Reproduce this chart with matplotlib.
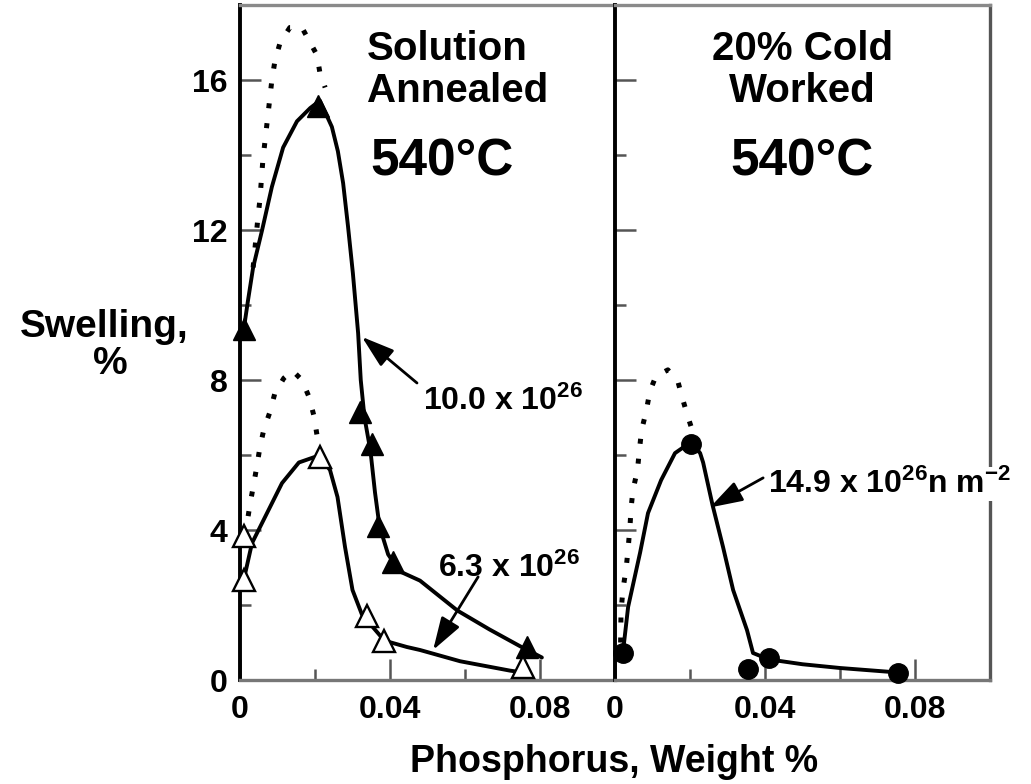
import matplotlib
matplotlib.use('Agg')
import matplotlib.pyplot as plt
from matplotlib.ticker import FixedLocator, FuncFormatter, NullFormatter

plt.rcParams['font.family'] = 'Liberation Sans'
plt.rcParams['font.weight'] = 'bold'
plt.rcParams['mathtext.fontset'] = 'custom'
plt.rcParams['mathtext.rm'] = 'Liberation Sans:bold'
plt.rcParams['mathtext.it'] = 'Liberation Sans:bold'
plt.rcParams['mathtext.bf'] = 'Liberation Sans:bold'

####################################################################
# solution annealed, 10.0e26 n/m2 (filled triangles)
sa_hi_p = [0.001, 0.0208, 0.032, 0.0352, 0.0368, 0.0408, 0.0765]
sa_hi_sw = [9.35, 15.3, 7.15, 6.3, 4.1, 3.15, 0.88]
# hand drawn trend line
sa_hi_line_p = [0.001, 0.0021, 0.0035, 0.0059, 0.0085, 0.0115, 0.0152, 0.0187, 0.0213,
                0.0245, 0.0261, 0.0275, 0.0288, 0.0301, 0.0315, 0.0322, 0.0332, 0.0348,
                0.036, 0.0372, 0.0395, 0.0425, 0.048, 0.058, 0.0665, 0.0747, 0.0805]
sa_hi_line_sw = [9.35, 10.1, 11.0, 12.0, 13.15, 14.2, 14.9, 15.25, 15.45,
                 14.75, 14.1, 13.25, 12.1, 10.85, 9.25, 8.0, 7.0, 6.1,
                 5.0, 4.1, 3.35, 2.9, 2.65, 1.85, 1.35, 0.9, 0.6]
# dotted envelope above the peak
sa_hi_dot_p = [0.0035, 0.0048, 0.0053, 0.0061, 0.0067, 0.0085, 0.0093, 0.0107, 0.0133,
               0.0165, 0.0187, 0.0205, 0.0213, 0.0227]
sa_hi_dot_sw = [11.0, 12.35, 12.8, 13.87, 14.4, 16.0, 16.5, 17.0, 17.4,
                17.4, 17.0, 16.67, 16.2, 15.8]

# solution annealed, 6.3e26 n/m2 (open triangles)
sa_lo_p = [0.001, 0.001, 0.0213, 0.0338, 0.0385, 0.0755]
sa_lo_sw = [3.85, 2.67, 5.95, 1.7, 1.05, 0.35]
sa_lo_line_p = [0.001, 0.0032, 0.0067, 0.0112, 0.0157, 0.02, 0.0213, 0.024, 0.026,
                0.028, 0.030, 0.0325, 0.0338, 0.0385, 0.0445, 0.048, 0.0587, 0.072, 0.0755]
sa_lo_line_sw = [2.67, 3.65, 4.35, 5.25, 5.8, 5.95, 5.95, 5.6, 4.88,
                 3.55, 2.4, 1.75, 1.6, 1.05, 0.88, 0.8, 0.5, 0.25, 0.2]
sa_lo_dot_p = [0.001, 0.0019, 0.0027, 0.0037, 0.0045, 0.0053, 0.0064, 0.008, 0.0093,
               0.0117, 0.014, 0.0165, 0.0184, 0.0197, 0.0205, 0.0213]
sa_lo_dot_sw = [3.85, 4.2, 4.7, 5.25, 5.7, 6.2, 6.7, 7.15, 7.65,
                8.05, 8.25, 8.0, 7.55, 7.05, 6.55, 6.1]

# 20% cold worked, 14.9e26 n/m2 (filled circles)
cw_p = [0.0021, 0.0203, 0.0355, 0.041, 0.0755]
cw_sw = [0.72, 6.3, 0.3, 0.6, 0.2]
cw_line_p = [0.0021, 0.0035, 0.0067, 0.0088, 0.0123, 0.016, 0.0203, 0.0227, 0.0235,
             0.026, 0.0288, 0.0315, 0.0352, 0.0368, 0.041, 0.05, 0.06, 0.0755]
cw_line_sw = [0.72, 1.95, 3.4, 4.45, 5.33, 6.05, 6.35, 6.05, 5.8,
              4.67, 3.55, 2.4, 1.33, 0.72, 0.55, 0.42, 0.32, 0.2]
cw_dot_p = [0.0015, 0.0016, 0.0021, 0.003, 0.0035, 0.004, 0.0043, 0.0048, 0.006,
            0.0065, 0.0071, 0.0083, 0.0093, 0.0109, 0.0141, 0.0168, 0.0181, 0.0195, 0.0208]
cw_dot_sw = [1.0, 1.8, 2.4, 3.0, 3.5, 4.1, 4.6, 5.07, 5.6,
             6.13, 6.67, 7.15, 7.7, 8.1, 8.27, 7.95, 7.47, 7.0, 6.6]

x_major = [0, 0.04, 0.08]
x_minor = [0.02, 0.06]
y_major = [0, 4, 8, 12, 16]
y_minor = [2, 6, 10, 14]

####################################################################
W, H = 1031, 784
fig = plt.figure(figsize=(W / 100, H / 100), dpi=100)
x0, x1, x2 = 240, 615, 990
ybot, ytop = 680, 5
ax1 = fig.add_axes([x0 / W, 1 - ybot / H, (x1 - x0) / W, (ybot - ytop) / H])
ax2 = fig.add_axes([x1 / W, 1 - ybot / H, (x2 - x1) / W, (ybot - ytop) / H])

solid = dict(color='black', lw=2.8, solid_capstyle='round', solid_joinstyle='round', zorder=2)
dotted = dict(color='black', lw=3.6, linestyle=(0, (1, 3)), dash_capstyle='butt', zorder=2)
arrow = dict(arrowstyle='-|>,head_length=1.0,head_width=0.32', color='black', lw=2.0,
             mutation_scale=20, shrinkA=0, shrinkB=0)


def xfmt(v, pos):
    return '0' if abs(v) < 1e-9 else f'{v:.2f}'


for ax in (ax1, ax2):
    ax.set_xlim(0, 0.1)
    ax.set_ylim(0, 18)
    ax.xaxis.set_major_locator(FixedLocator(x_major))
    ax.xaxis.set_minor_locator(FixedLocator(x_minor))
    ax.yaxis.set_major_locator(FixedLocator(y_major))
    ax.yaxis.set_minor_locator(FixedLocator(y_minor))
    ax.xaxis.set_major_formatter(FuncFormatter(xfmt))
    ax.tick_params(which='both', direction='in', color='#555555', width=1.8)
    ax.tick_params(which='major', length=15)
    ax.tick_params(which='minor', length=8)
    ax.tick_params(axis='x', labelsize=23, pad=11)
    ax.tick_params(axis='y', labelsize=23, pad=9)
    ax.spines['top'].set_color('#8a8a8a')
    ax.spines['top'].set_linewidth(2.4)
    ax.spines['bottom'].set_color('#777777')
    ax.spines['bottom'].set_linewidth(2.4)
    ax.spines['left'].set_color('black')
    ax.spines['left'].set_linewidth(2.8)

ax1.spines['right'].set_visible(False)
ax2.spines['right'].set_color('#555555')
ax2.spines['right'].set_linewidth(2.4)
ax2.yaxis.set_major_formatter(NullFormatter())

# ---- left panel: solution annealed
ax1.plot(sa_hi_line_p, sa_hi_line_sw, **solid)
ax1.plot(sa_hi_dot_p, sa_hi_dot_sw, **dotted)
ax1.plot(sa_lo_line_p, sa_lo_line_sw, **solid)
ax1.plot(sa_lo_dot_p, sa_lo_dot_sw, **dotted)
ax1.plot(sa_hi_p, sa_hi_sw, ls='none', marker='^', ms=16, mfc='black', mec='black',
         clip_on=False, zorder=3)
ax1.plot(sa_lo_p, sa_lo_sw, ls='none', marker='^', ms=16, mfc='white', mec='black',
         mew=1.7, clip_on=False, zorder=3)

ax1.text(0.339, 0.9185, 'Solution', transform=ax1.transAxes, fontsize=29, ha='left')
ax1.text(0.339, 0.856, 'Annealed', transform=ax1.transAxes, fontsize=29, ha='left')
ax1.text(0.347, 0.748, '540°C', transform=ax1.transAxes, fontsize=37, ha='left')

ax1.annotate('', xy=(0.0325, 9.15), xytext=(0.0472, 7.92), arrowprops=arrow)
ax1.text(0.0488, 7.2, r'10.0 x $10^{26}$', fontsize=23, ha='left', va='baseline')
ax1.annotate('', xy=(0.0515, 0.8), xytext=(0.0635, 2.75), arrowprops=arrow)
ax1.text(0.0528, 2.75, r'6.3 x $10^{26}$', fontsize=23, ha='left', va='baseline')

# ---- right panel: 20% cold worked
ax2.plot(cw_line_p, cw_line_sw, **solid)
ax2.plot(cw_dot_p, cw_dot_sw, **dotted)
ax2.plot(cw_p, cw_sw, ls='none', marker='o', ms=14, mfc='black', mec='black',
         clip_on=False, zorder=3)

ax2.text(0.499, 0.9185, '20% Cold', transform=ax2.transAxes, fontsize=29, ha='center')
ax2.text(0.499, 0.856, 'Worked', transform=ax2.transAxes, fontsize=29, ha='center')
ax2.text(0.499, 0.748, '540°C', transform=ax2.transAxes, fontsize=37, ha='center')

ax2.annotate('', xy=(0.0253, 4.6), xytext=(0.0395, 5.39), arrowprops=arrow)
ax2.text(0.0408, 4.99, r'14.9 x $10^{26}$n $\mathrm{m}^{-2}$', fontsize=23, ha='left',
         va='baseline', zorder=5,
         bbox=dict(facecolor='white', edgecolor='none', pad=1))

# ---- axis titles
fig.text(104 / W, 1 - 337 / H, 'Swelling,', fontsize=28, ha='center', va='baseline')
fig.text(110 / W, 1 - 374 / H, '%', fontsize=28, ha='center', va='baseline')
fig.text(614 / W, 1 - 772 / H, 'Phosphorus, Weight %', fontsize=27, ha='center',
         va='baseline')

fig.savefig('out.png', dpi=100)
